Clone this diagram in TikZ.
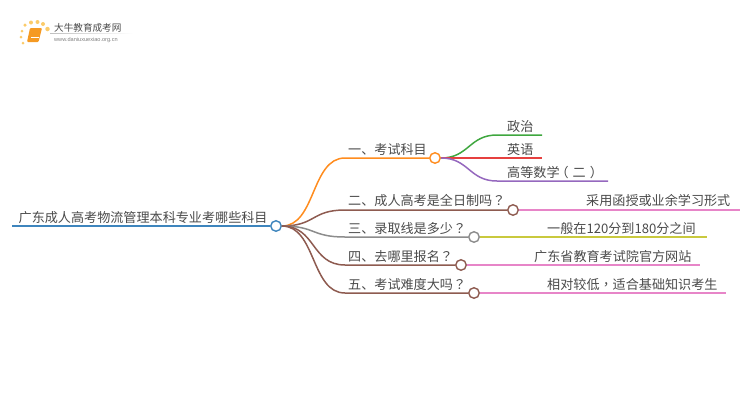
\documentclass[tikz,border=0pt]{standalone}
\usepackage{fontspec}
\setmainfont{Noto Sans CJK SC}
\setsansfont{Liberation Sans}
\newfontfamily\twfont{Noto Sans CJK TC}
\usetikzlibrary{positioning}
\definecolor{txtgray}{HTML}{4A4A4A}
\definecolor{rootblue}{HTML}{3E85BD}
\definecolor{brorange}{HTML}{FF8C1E}
\definecolor{brbrown}{HTML}{8E5B50}
\definecolor{brgray}{HTML}{8C8C8C}
\definecolor{lfgreen}{HTML}{3FA73F}
\definecolor{lfred}{HTML}{E6403F}
\definecolor{lfpurple}{HTML}{9568BE}
\definecolor{lfpink}{HTML}{E785C8}
\definecolor{lfyellow}{HTML}{C9C93E}
\definecolor{bookorange}{HTML}{F59A23}
\definecolor{sunyellow}{HTML}{FBCB6A}
\newcommand{\twq}{{\twfont ？}}
\tikzset{
  caption/.style={
    anchor=base west,
    inner sep=0pt,
    text=txtgray,
    font=\fontsize{13.1}{14}\selectfont},
  dot/.style={
    circle,
    draw,
    fill=white,
    line width=1.4pt,
    inner sep=0pt,
    minimum size=10.5pt},
  wire/.style={line width=1.5pt},
  sun/.style={circle, fill=sunyellow, inner sep=0pt},
}
\begin{document}
\begin{tikzpicture}[x=1pt,y=-1pt]
  \useasboundingbox (0,0) rectangle (750,410);
  % logo
  \node[sun, minimum size=3pt] (SunA) at (23,43) {};
  \node[sun, minimum size=3pt] (SunB) at (21,37) {};
  \node[sun, minimum size=3pt] (SunC) at (22,31) {};
  \node[sun, minimum size=3.5pt] (SunD) at (25,25) {};
  \node[sun, minimum size=4pt] (SunE) at (31,22.5) {};
  \node[sun, minimum size=4pt] (SunF) at (37.5,22) {};
  \node[sun, minimum size=4pt] (SunG) at (43,24) {};
  \node[sun, minimum size=4.5pt] (SunH) at (47.5,29) {};
  \fill[bookorange, rounded corners=1pt] (30,28) -- (42,28) -- (38.5,42) -- (27,42) -- cycle;
  \draw[white, line width=.5pt] (31,37.5) -- (38.5,37.5);
  \node[inner sep=0pt, text=txtgray, font=\fontsize{9.6}{10}\selectfont, anchor=base west]
    (LogoName) at (54,31) {大牛教育成考网};
  \node[inner sep=0pt, text=gray, font=\sffamily\fontsize{5.6}{6}\selectfont, anchor=base west]
    (LogoUrl) at (54,41) {www.daniuxuexiao.org.cn};
  \shade[left color=black!25, right color=white] (50,33) rectangle (133,33.6);

  % root
  \node[dot, draw=rootblue] (RootDot) at (276,226) {};
  \node[caption] (Root) at (18.5,222.5) {广东成人高考物流管理本科专业考哪些科目};
  \coordinate (RootStart) at (12,226);
  \draw[rootblue, line width=2pt] (RootStart) -- (RootDot.west);

  % branches
  \node[dot, draw=brorange] (KemuDot) at (435,158) {};
  \node[dot, draw=brbrown] (QuanriDot) at (513,210) {};
  \node[dot, draw=brgray] (LuquDot) at (474,237) {};
  \node[dot, draw=brbrown] (BaomingDot) at (461,265) {};
  \node[dot, draw=brbrown] (NanduDot) at (474,293) {};
  \node[caption] (Kemu) at (348,154) {一、考试科目};
  \node[caption] (Quanri) at (348,205.5) {二、成人高考是全日制吗\twq};
  \node[caption] (Luqu) at (348,233) {三、录取线是多少\twq};
  \node[caption] (Baoming) at (348,261) {四、去哪里报名\twq};
  \node[caption] (Nandu) at (348,289) {五、考试难度大吗\twq};
  \coordinate (KemuIn) at (345,158);
  \coordinate (QuanriIn) at (345,210);
  \coordinate (LuquIn) at (345,237);
  \coordinate (BaomingIn) at (345,265);
  \coordinate (NanduIn) at (345,293);
  \draw[wire, brorange] (RootDot.east) .. controls +(34,0) and +(-34,0) .. (KemuIn) -- (KemuDot.west);
  \draw[wire, brbrown] (RootDot.east) .. controls +(34,0) and +(-34,0) .. (QuanriIn) -- (QuanriDot.west);
  \draw[wire, brgray] (RootDot.east) .. controls +(34,0) and +(-34,0) .. (LuquIn) -- (LuquDot.west);
  \draw[wire, brbrown] (RootDot.east) .. controls +(34,0) and +(-34,0) .. (BaomingIn) -- (BaomingDot.west);
  \draw[wire, brbrown] (RootDot.east) .. controls +(34,0) and +(-34,0) .. (NanduIn) -- (NanduDot.west);

  % subjects
  \node[caption] (Zhengzhi) at (507,131) {政治};
  \node[caption] (Yingyu) at (507,154) {英语};
  \node[caption] (Shuxue) at (507,177) {高等数学\kern-4pt（\kern4pt二\kern4pt）};
  \coordinate (ZhengzhiIn) at (497,135);
  \coordinate (ZhengzhiEnd) at (542,135);
  \coordinate (YingyuEnd) at (542,158);
  \coordinate (ShuxueIn) at (497,181);
  \coordinate (ShuxueEnd) at (608,181);
  \draw[wire, lfgreen] (KemuDot.east) .. controls +(28,0) and +(-28,0) .. (ZhengzhiIn) -- (ZhengzhiEnd);
  \draw[wire, lfred] (KemuDot.east) -- (YingyuEnd);
  \draw[wire, lfpurple] (KemuDot.east) .. controls +(28,0) and +(-28,0) .. (ShuxueIn) -- (ShuxueEnd);

  % answers
  \node[caption] (QuanriText) at (586,205.5) {采用函授或业余学习形式};
  \node[caption] (LuquText) at (547,233) {一般在120分到180分之间};
  \node[caption] (BaomingText) at (534,261) {广东省教育考试院官方网站};
  \node[caption] (NanduText) at (547,289) {相对较低{\twfont ，}适合基础知识考生};
  \coordinate (QuanriEnd) at (740,210);
  \coordinate (LuquEnd) at (707,237);
  \coordinate (BaomingEnd) at (700,265);
  \coordinate (NanduEnd) at (726,293);
  \draw[wire, lfpink] (QuanriDot.east) -- (QuanriEnd);
  \draw[wire, lfyellow] (LuquDot.east) -- (LuquEnd);
  \draw[wire, lfpink] (BaomingDot.east) -- (BaomingEnd);
  \draw[wire, lfpink] (NanduDot.east) -- (NanduEnd);
\end{tikzpicture}
\end{document}
